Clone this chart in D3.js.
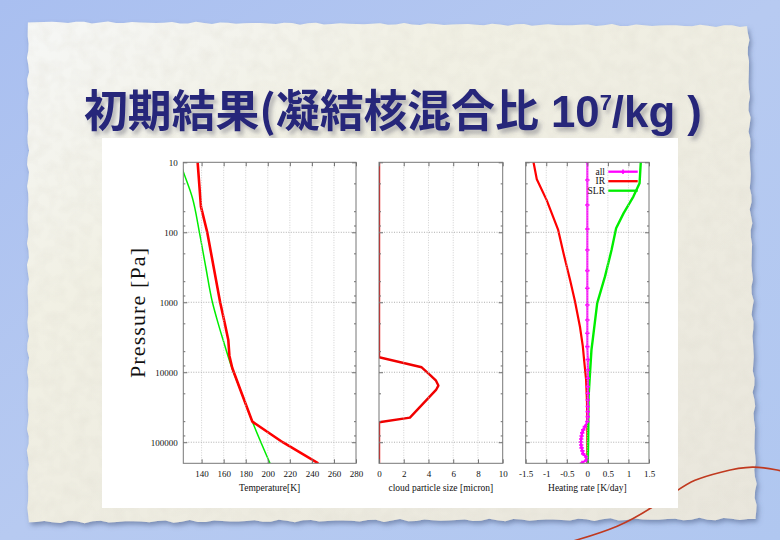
<!DOCTYPE html>
<html><head><meta charset="utf-8">
<script src="https://cdn.jsdelivr.net/npm/d3@7"></script>
<style>html,body{margin:0;padding:0;background:#aec3ef;}svg{display:block}</style>
</head><body><svg id="c" width="780" height="540"></svg>
<script>
// ---------- data ----------
const pressureTicks = [10, 100, 1000, 10000, 100000];
const pressureLabels = ["10", "100", "1000", "10000", "100000"];
const temperatureTicks = [140, 160, 180, 200, 220, 240, 260, 280];
const sizeTicks = [0, 2, 4, 6, 8, 10];
const heatingTicks = [-1.5, -1, -0.5, 0, 0.5, 1, 1.5];
const heatingLabels = ["-1.5", "-1", "-0.5", "0", "0.5", "1", "1.5"];

// Temperature profiles
const tempRedP = [10, 43, 100, 1000, 2000, 3450, 5800, 8700, 20000, 50700, 100000, 200000];
const tempRedT = [136.4, 139.4, 145.1, 156.8, 161.0, 164.2, 165.2, 167.8, 176.3, 186, 213.5, 245.8];
const tempGreenP = [10, 13.6, 31.6, 100, 316, 1000, 2000, 3470, 8700, 20000, 50700, 200000];
const tempGreenT = [120.5, 123.4, 131.5, 138.0, 143.8, 149.8, 155.0, 159.5, 167.5, 176.3, 186, 202];

// Cloud particle size
const cloudP = [10, 6100, 8490, 10900, 13200, 15500, 17900, 44500, 51800, 200000];
const cloudR = [0, 0, 3.45, 4.12, 4.61, 4.8, 4.61, 2.5, 0, 0];

// Heating rates
const irP = [10, 17.5, 34.7, 92.7, 200, 479, 977, 2240, 4270, 6610, 12900, 25100, 50100, 200000];
const irH = [-1.31, -1.23, -0.99, -0.71, -0.58, -0.42, -0.30, -0.18, -0.11, -0.08, -0.03, -0.01, 0, 0];
const slrP = [10, 20, 30.9, 53.7, 87.7, 178, 427, 1030, 3470, 4790, 10200, 22400, 93300, 200000];
const slrH = [1.30, 1.27, 1.12, 0.88, 0.70, 0.59, 0.43, 0.24, 0.13, 0.10, 0.065, 0.03, 0.02, 0.01];
const allP = [10, 17.9, 40.7, 89.7, 179, 353, 631, 1094, 1791, 2773, 4305, 6607, 9268, 12190, 16070, 19950,
  24890, 30900, 36560, 43050, 50820, 59840, 66680, 73620, 81280, 89740, 99080, 109400, 120500, 133000,
  146900, 162200, 179100, 197700];
const allH = [0, 0, 0, 0, 0, 0, 0, 0, 0, 0, 0, 0.01, 0.01, 0.01, 0.01, 0.01,
  0.01, 0.01, 0.01, 0.01, 0.0, -0.06, -0.1, -0.125, -0.14, -0.15, -0.155, -0.15, -0.14, -0.12,
  -0.1, -0.03, -0.02, -0.13];

const legendNames = ["all", "IR", "SLR"];
const titleMain = "初期結果(凝結核混合比";
const titleNum = " 10";
const titleSup = "7";
const titleEnd = "/kg )";

// ---------- drawing ----------
const svg = d3.select("#c");
const defs = svg.append("defs");

// background
const bg = defs.append("linearGradient").attr("id", "bg").attr("x1", 0).attr("y1", 0).attr("x2", 1).attr("y2", 1);
bg.append("stop").attr("offset", 0).attr("stop-color", "#a9bff0");
bg.append("stop").attr("offset", 0.5).attr("stop-color", "#b7caf1");
bg.append("stop").attr("offset", 1).attr("stop-color", "#b0c7f0");
svg.append("rect").attr("width", 780).attr("height", 540).attr("fill", "url(#bg)");

const pg = defs.append("linearGradient").attr("id", "paper").attr("x1", 0).attr("y1", 0).attr("x2", 1).attr("y2", 1);
pg.append("stop").attr("offset", 0).attr("stop-color", "#f6f7f6");
pg.append("stop").attr("offset", 0.3).attr("stop-color", "#f1f0e4");
pg.append("stop").attr("offset", 1).attr("stop-color", "#e9e6dc");

const sh = defs.append("filter").attr("id", "pshadow").attr("x", -0.05).attr("y", -0.05).attr("width", 1.1).attr("height", 1.1);
sh.append("feDropShadow").attr("dx", 2).attr("dy", 3).attr("stdDeviation", 2.5)
  .attr("flood-color", "#4a5a80").attr("flood-opacity", 0.55);

const tex = defs.append("filter").attr("id", "tex");
tex.append("feTurbulence").attr("type", "fractalNoise").attr("baseFrequency", 0.08).attr("numOctaves", 2).attr("seed", 3);
tex.append("feColorMatrix").attr("type", "matrix")
  .attr("values", "0 0 0 0 0.72  0 0 0 0 0.70  0 0 0 0 0.62  0 0 0 -1.8 1.15");

// torn paper edge (decorative)
function edge(x0, y0, x1, y1, n, amp, ph) {
  const pts = [];
  for (let i = 0; i <= n; i++) {
    const t = i / n;
    const w = amp * (Math.sin(i * 1.7 + ph) * 0.6 + Math.sin(i * 4.1 + ph * 2) * 0.4);
    const dx = x1 - x0, dy = y1 - y0, L = Math.hypot(dx, dy);
    pts.push([x0 + dx * t - dy / L * w, y0 + dy * t + dx / L * w]);
  }
  return pts;
}
const paperPts = [].concat(
  edge(28, 22, 748, 26, 90, 1.2, 0.3),
  edge(748, 26, 756, 519, 70, 1.3, 1.1),
  edge(756, 519, 28, 522, 90, 1.5, 2.0),
  edge(28, 522, 28, 22, 70, 1.2, 0.7)
);
const paperPath = d3.line()(paperPts) + "Z";
defs.append("clipPath").attr("id", "paperClip").append("path").attr("d", paperPath);
svg.append("path").attr("d", paperPath).attr("fill", "url(#paper)").attr("filter", "url(#pshadow)");
svg.append("rect").attr("x", 20).attr("y", 15).attr("width", 745).attr("height", 515)
  .attr("clip-path", "url(#paperClip)").attr("filter", "url(#tex)").attr("opacity", 0.25);

// red thread (decorative)
const threadPts = [[570, 542], [620, 527], [653, 507], [678, 490], [693, 480], [720, 472], [753, 465], [782, 471]];
svg.append("path").attr("d", d3.line().curve(d3.curveBasis)(threadPts))
  .attr("fill", "none").attr("stroke", "#c0391f").attr("stroke-width", 1.6);

// title
const tsh = defs.append("filter").attr("id", "tshadow").attr("x", -0.1).attr("y", -0.3).attr("width", 1.2).attr("height", 1.8);
tsh.append("feDropShadow").attr("dx", 3).attr("dy", 4).attr("stdDeviation", 2)
  .attr("flood-color", "#505060").attr("flood-opacity", 0.4);
const tg = svg.append("g");
const title = tg.append("text").attr("x", 0).attr("y", 0)
  .attr("font-family", "'Noto Sans CJK JP', 'Noto Sans CJK SC', sans-serif")
  .attr("font-weight", 700).attr("font-size", 44).attr("fill", "#27287a")
  .attr("filter", "url(#tshadow)");
const latin = "'Liberation Sans', Arial, sans-serif";
title.append("tspan").text(titleMain);
title.append("tspan").attr("font-family", latin).attr("font-size", 44).text(titleNum);
title.append("tspan").attr("font-family", latin).attr("font-size", 22).attr("dy", -17).text(titleSup);
title.append("tspan").attr("font-family", latin).attr("font-size", 44).attr("dy", 17).text(titleEnd);
const tb = title.node().getBBox();
const ts = 618 / tb.width;
tg.attr("transform", `translate(${84 - tb.x * ts},127) scale(${ts},1)`);

// white panel
svg.append("rect").attr("x", 102).attr("y", 138).attr("width", 576).attr("height", 370).attr("fill", "#ffffff");

// scales
const Y0 = 162.3, Y1 = 463.3;
const y = d3.scaleLog().domain([10, 200000]).range([Y0, Y1]);
const panels = [
  { x: d3.scaleLinear().domain([123.4, 280]).range([183.3, 356]), ticks: temperatureTicks, labels: temperatureTicks.map(String), title: "Temperature[K]", ylabels: true },
  { x: d3.scaleLinear().domain([0, 10]).range([379, 502.7]), ticks: sizeTicks, labels: sizeTicks.map(String), title: "cloud particle size [micron]" },
  { x: d3.scaleLinear().domain([-1.5, 1.5]).range([525.7, 649]), ticks: heatingTicks, labels: heatingLabels, title: "Heating rate [K/day]" }
];
const minorTicks = [];
for (let d = 10; d < 200000; d *= 10) [2, 5, 8].forEach(m => { if (d * m < 200000) minorTicks.push(d * m); });

const serif = "'Liberation Serif', 'Times New Roman', serif";
panels.forEach((p, i) => {
  const g = svg.append("g");
  const [xa, xb] = p.x.range();
  const cid = "clip" + i;
  defs.append("clipPath").attr("id", cid).append("rect").attr("x", xa).attr("y", Y0).attr("width", xb - xa).attr("height", Y1 - Y0);
  p.g = g.append("g").attr("clip-path", `url(#${cid})`);
  // grids
  g.append("g").selectAll("line").data(p.ticks.filter(t => t > p.x.domain()[0] && t < p.x.domain()[1])).join("line")
    .attr("x1", d => p.x(d)).attr("x2", d => p.x(d)).attr("y1", Y0).attr("y2", Y1)
    .attr("stroke", "#c4c4c4").attr("stroke-width", 0.8).attr("stroke-dasharray", "1,1.5");
  g.append("g").selectAll("line").data(pressureTicks.slice(1)).join("line")
    .attr("x1", xa).attr("x2", xb).attr("y1", d => y(d)).attr("y2", d => y(d))
    .attr("stroke", "#9a9a9a").attr("stroke-width", 0.8).attr("stroke-dasharray", "1,1.5");
  // axes
  const bax = g.append("g").attr("transform", `translate(0,${Y1})`)
    .call(d3.axisBottom(p.x).tickValues(p.ticks).tickFormat((d, k) => p.labels[k]).tickSizeInner(-4).tickSizeOuter(0).tickPadding(7));
  const tax = g.append("g").attr("transform", `translate(0,${Y0})`)
    .call(d3.axisTop(p.x).tickValues(p.ticks).tickFormat("").tickSizeInner(-4).tickSizeOuter(0));
  const lax = g.append("g").attr("transform", `translate(${xa},0)`)
    .call(d3.axisLeft(y).tickValues(pressureTicks).tickFormat((d, k) => p.ylabels ? pressureLabels[k] : "").tickSizeInner(-4).tickSizeOuter(0).tickPadding(5.6));
  const rax = g.append("g").attr("transform", `translate(${xb},0)`)
    .call(d3.axisRight(y).tickValues(pressureTicks).tickFormat("").tickSizeInner(-4).tickSizeOuter(0));
  const lmin = g.append("g").attr("transform", `translate(${xa},0)`)
    .call(d3.axisLeft(y).tickValues(minorTicks).tickFormat("").tickSizeInner(-2).tickSizeOuter(0));
  const rmin = g.append("g").attr("transform", `translate(${xb},0)`)
    .call(d3.axisRight(y).tickValues(minorTicks).tickFormat("").tickSizeInner(-2).tickSizeOuter(0));
  [bax, tax, lax, rax, lmin, rmin].forEach(a => {
    a.select(".domain").remove();
    a.selectAll("line").attr("stroke", "#6e6e6e");
    a.selectAll("text").attr("font-family", serif).attr("font-size", 9).attr("fill", "#111");
  });
  g.append("rect").attr("x", xa).attr("y", Y0).attr("width", xb - xa).attr("height", Y1 - Y0)
    .attr("fill", "none").attr("stroke", "#777").attr("stroke-width", 1);
  g.append("text").attr("x", (xa + xb) / 2).attr("y", 490.7).attr("text-anchor", "middle")
    .attr("font-family", serif).attr("font-size", 9.5).attr("fill", "#111").text(p.title);
});

// y title
svg.append("text").attr("transform", "translate(145,313) rotate(-90)").attr("text-anchor", "middle")
  .attr("font-family", serif).attr("font-size", 22).attr("fill", "#111")
  .attr("textLength", 130).attr("lengthAdjust", "spacing").text("Pressure [Pa]");

// series
function drawLine(g, xs, ps, xsc, color, w, curve) {
  const pts = ps.map((p, i) => [xsc(xs[i]), y(p)]);
  g.append("path").attr("d", d3.line().curve(curve || d3.curveLinear)(pts)).attr("fill", "none").attr("stroke", color)
    .attr("stroke-width", w).attr("stroke-linejoin", "round");
  return pts;
}
const [p1, p2, p3] = panels;
drawLine(p1.g, tempGreenT, tempGreenP, p1.x, "#00ee00", 1.5, d3.curveMonotoneY);
drawLine(p1.g, tempRedT, tempRedP, p1.x, "#ff0000", 2.6);
drawLine(p2.g, cloudR, cloudP, p2.x, "#f00000", 2.4);
drawLine(p3.g, irH, irP, p3.x, "#ff0000", 2.2);
drawLine(p3.g, slrH, slrP, p3.x, "#00ee00", 2.4);
const allPts = drawLine(p3.g, allH, allP, p3.x, "#ff00ff", 2);
const plus = "M-2.2,0H2.2M0,-2.2V2.2";
p3.g.selectAll("path.mk").data(allPts).join("path").attr("class", "mk")
  .attr("transform", d => `translate(${d[0]},${d[1]})`).attr("d", plus)
  .attr("stroke", "#ff00ff").attr("stroke-width", 1.6);

// legend
const legColors = ["#ff00ff", "#ff0000", "#00ee00"];
const legY = [171.7, 181.2, 190.7];
legendNames.forEach((n, i) => {
  svg.append("text").attr("x", 605).attr("y", legY[i] + 3).attr("text-anchor", "end")
    .attr("font-family", serif).attr("font-size", 9.5).attr("fill", "#111").text(n);
  svg.append("line").attr("x1", 608.3).attr("x2", 637.7).attr("y1", legY[i]).attr("y2", legY[i])
    .attr("stroke", legColors[i]).attr("stroke-width", 2.3);
  if (i === 0) svg.append("path").attr("transform", `translate(623,${legY[i]})`).attr("d", plus)
    .attr("stroke", legColors[i]).attr("stroke-width", 1.6);
});
</script></body></html>
